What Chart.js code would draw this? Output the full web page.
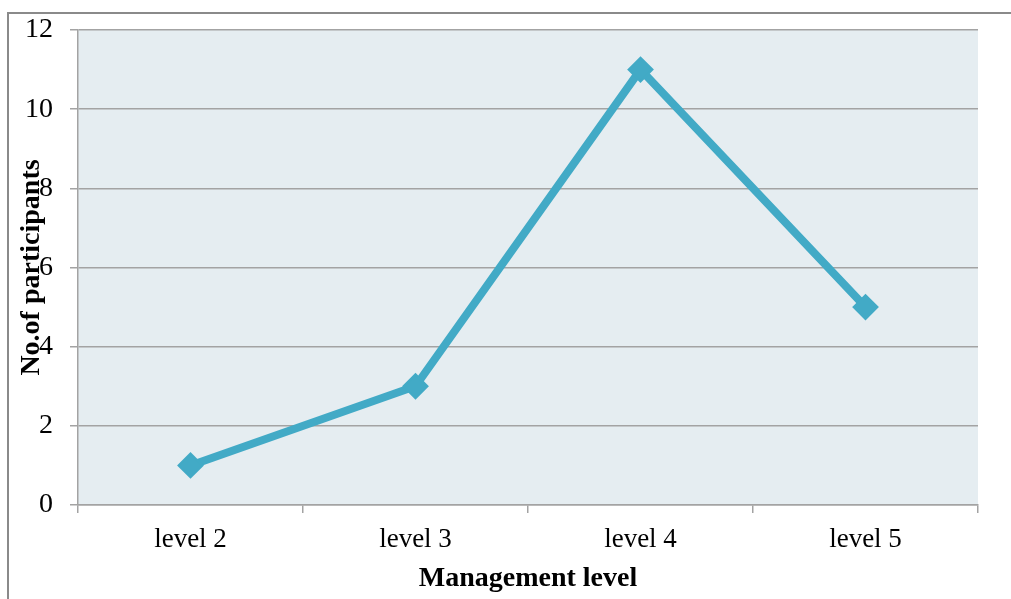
<!DOCTYPE html>
<html>
<head>
<meta charset="utf-8">
<script src="https://cdn.jsdelivr.net/npm/chart.js@4/dist/chart.umd.min.js"></script>
<style>
  html, body { margin: 0; padding: 0; background: #ffffff; }
  #wrap { position: relative; width: 1011px; height: 599px; overflow: hidden; }
  canvas { display: block; }
</style>
</head>
<body>
<div id="wrap"><canvas id="chart" width="1011" height="599"></canvas></div>
<script>
// Participants per management level
const categories = ['level 2', 'level 3', 'level 4', 'level 5'];
const participants = [1, 3, 11, 5];
const yTicks = [0, 2, 4, 6, 8, 10, 12];

const xTitle = 'Management level';
const yTitle = 'No.of participants';

const lineColor = '#42aac6';
const gridColor = '#a3a3a3';
const serif = "'Liberation Serif', 'DejaVu Serif', serif";

// Plot-area fill and the outer frame
const frame = {
  id: 'frame',
  beforeDraw(chart) {
    const { ctx, chartArea: a } = chart;
    ctx.save();
    ctx.fillStyle = '#e5edf1';
    ctx.fillRect(a.left, a.top, a.right - a.left, a.bottom - a.top);
    ctx.strokeStyle = '#8a8a8a';
    ctx.lineWidth = 2;
    ctx.beginPath();
    ctx.moveTo(8, chart.height);
    ctx.lineTo(8, 13);
    ctx.lineTo(chart.width, 13);
    ctx.stroke();
    ctx.restore();
  }
};

new Chart(document.getElementById('chart'), {
  type: 'line',
  data: {
    labels: categories,
    datasets: [{
      data: participants,
      borderColor: lineColor,
      backgroundColor: lineColor,
      borderWidth: 8,
      tension: 0,
      pointStyle: 'rectRot',
      pointRadius: 12,
      pointBorderWidth: 2,
      pointBorderColor: lineColor,
      pointBackgroundColor: lineColor
    }]
  },
  options: {
    responsive: false,
    animation: false,
    events: [],
    layout: { padding: { top: 30, right: 33, bottom: 0, left: 0 } },
    plugins: { legend: { display: false }, tooltip: { enabled: false } },
    scales: {
      x: {
        type: 'category',
        offset: true,
        grid: {
          offset: true,
          drawOnChartArea: false,
          drawTicks: true,
          tickLength: 8,
          color: gridColor,
          lineWidth: 1.5
        },
        border: { display: true, color: gridColor, width: 1.5 },
        ticks: {
          color: '#000000',
          padding: 11,
          maxRotation: 0,
          font: { family: serif, size: 27 }
        },
        title: {
          display: true,
          text: xTitle,
          color: '#000000',
          padding: { top: 0, bottom: 3 },
          font: { family: serif, size: 28, weight: 'bold' }
        },
        afterFit(scale) { scale.height = 94; }
      },
      y: {
        min: 0,
        max: 12,
        afterBuildTicks(scale) { scale.ticks = yTicks.map(v => ({ value: v })); },
        grid: {
          color: gridColor,
          lineWidth: 1.5,
          drawTicks: true,
          tickLength: 8
        },
        border: { display: true, color: gridColor, width: 1.5 },
        ticks: {
          color: '#000000',
          padding: 17,
          font: { family: serif, size: 28 }
        },
        title: {
          display: true,
          text: yTitle,
          color: '#000000',
          padding: { top: 15, bottom: 0 },
          font: { family: serif, size: 28, weight: 'bold' }
        },
        afterFit(scale) {
          scale.width = 78;
          scale.paddingTop = 0;
          scale.paddingBottom = 0;
        }
      }
    }
  },
  plugins: [frame]
});
</script>
</body>
</html>
